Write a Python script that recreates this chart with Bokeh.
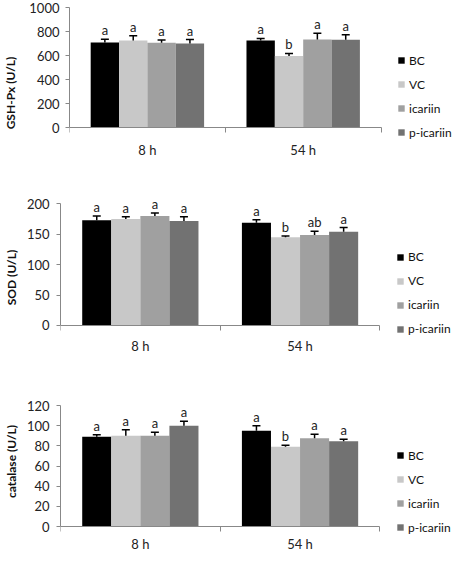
from bokeh.plotting import figure
from bokeh.models import (ColumnDataSource, Range1d, FixedTicker, Whisker, TeeHead,
                          Legend, LegendItem)
from bokeh.transform import dodge
from bokeh.layouts import column
from bokeh.core.properties import value
from bokeh.embed import file_html
from bokeh.resources import INLINE

# ---------------- data ----------------
groups = ["8 h", "54 h"]
series = ["BC", "VC", "icariin", "p-icariin"]
colors = ["#000000", "#c8c8c8", "#a0a0a0", "#727272"]

gsh_mean = [[709, 725], [725, 597], [707, 733], [701, 731]]
gsh_err = [[27, 18], [40, 21], [23, 53], [32, 42]]
gsh_letters = [["a", "a"], ["a", "b"], ["a", "a"], ["a", "a"]]

sod_mean = [[173, 169], [175, 145], [180, 149], [172, 154]]
sod_err = [[7, 5], [4, 2], [5, 6], [7, 7]]
sod_letters = [["a", "a"], ["a", "b"], ["a", "ab"], ["a", "a"]]

cat_mean = [[89, 95], [90, 79], [90, 87.5], [100, 84.5]]
cat_err = [[2, 5], [6, 1.5], [3.5, 4], [4.5, 2]]
cat_letters = [["a", "a"], ["a", "b"], ["a", "a"], ["a", "a"]]

FONT = "Lato"
W = 456
BAR_W = 0.182


def make_panel(ylabel, ymax, ystep, means, errs, letters, height, left,
               ytop_px, y0_px, axis_end, legend_sq_x, legend_y, cat_standoff,
               tick_standoff, label_standoff):
    n = len(groups)
    xend = n * (W - left) / (axis_end - left)
    k = (y0_px - ytop_px) / ymax
    y_hi = ymax + ytop_px / k
    y_lo = -(height - y0_px) / k
    p = figure(width=W, height=height, output_backend="svg", toolbar_location=None,
               x_range=Range1d(0, xend), y_range=Range1d(y_lo, y_hi),
               min_border_left=left, min_border_right=0,
               min_border_top=0, min_border_bottom=0)
    p.xgrid.visible = False
    p.ygrid.visible = False
    p.outline_line_color = None
    p.background_fill_color = "white"

    centers = [i + 0.5 for i in range(n)]
    items = []
    for j, name in enumerate(series):
        off = (j - (len(series) - 1) / 2) * BAR_W
        src = ColumnDataSource(dict(
            x=centers,
            val=means[j],
            up=[m + e for m, e in zip(means[j], errs[j])],
            letter=letters[j],
        ))
        r = p.vbar(x=dodge("x", off), top="val", bottom=0, width=BAR_W, source=src,
                   fill_color=colors[j], line_color=None)
        items.append(LegendItem(label=name, renderers=[r]))
        wh = Whisker(source=src, base=dodge("x", off), upper="up", lower="val",
                     line_color="black", line_width=1.5, level="overlay",
                     upper_head=TeeHead(size=8, line_color="black", line_width=1.5),
                     lower_head=None)
        p.add_layout(wh)
        p.text(x=dodge("x", off), y="up", text="letter", source=src,
               text_align="center", text_baseline="bottom", y_offset=-1,
               text_font=value(FONT), text_font_size="13px", text_color="#222222")

    # x axis, pinned at y = 0
    xa = p.xaxis[0]
    xa.fixed_location = 0
    xa.ticker = FixedTicker(ticks=centers, minor_ticks=list(range(n + 1)))
    xa.major_label_overrides = {c: g for c, g in zip(centers, groups)}
    xa.bounds = (0, n)
    xa.major_tick_out = 0
    xa.major_tick_in = 0
    xa.minor_tick_out = 5
    xa.minor_tick_in = 0
    xa.minor_tick_line_color = "#888888"
    xa.axis_line_color = "#888888"
    xa.major_label_standoff = cat_standoff
    xa.major_label_text_font = FONT
    xa.major_label_text_font_size = "13px"
    xa.major_label_text_color = "#222222"

    # y axis
    ya = p.yaxis[0]
    ya.ticker = FixedTicker(ticks=list(range(0, ymax + 1, ystep)), minor_ticks=[])
    ya.bounds = (0, ymax)
    ya.axis_line_color = "#888888"
    ya.major_tick_line_color = "#888888"
    ya.major_tick_out = 4
    ya.major_tick_in = 0
    ya.minor_tick_out = 0
    ya.minor_tick_in = 0
    ya.major_label_standoff = tick_standoff
    ya.major_label_text_font = FONT
    ya.major_label_text_font_size = "13px"
    ya.major_label_text_color = "#222222"
    ya.axis_label = ylabel
    ya.axis_label_text_font = FONT
    ya.axis_label_text_font_size = "12px"
    ya.axis_label_text_font_style = "bold"
    ya.axis_label_text_color = "#111111"
    ya.axis_label_standoff = label_standoff

    legend = Legend(items=items, location=(legend_sq_x - left, legend_y),
                    orientation="vertical",
                    glyph_width=8, glyph_height=8, label_height=16, spacing=8,
                    padding=0, margin=0, label_standoff=4,
                    border_line_color=None, background_fill_alpha=0,
                    label_text_font=FONT, label_text_font_size="12px",
                    label_text_color="#111111")
    p.add_layout(legend)
    return p


p1 = make_panel("GSH-Px (U/L)", 1000, 200, gsh_mean, gsh_err, gsh_letters,
                height=185, left=66, ytop_px=7, y0_px=127.3, axis_end=380,
                legend_sq_x=394, legend_y=45, cat_standoff=9,
                tick_standoff=6, label_standoff=8)
p2 = make_panel("SOD (U/L)", 200, 50, sod_mean, sod_err, sod_letters,
                height=184, left=58, ytop_px=18.4, y0_px=139.9, axis_end=379,
                legend_sq_x=394, legend_y=32.5, cat_standoff=8,
                tick_standoff=7, label_standoff=5)
p3 = make_panel("catalase (U/L)", 120, 20, cat_mean, cat_err, cat_letters,
                height=184, left=58, ytop_px=36, y0_px=157, axis_end=379,
                legend_sq_x=394, legend_y=18, cat_standoff=4,
                tick_standoff=7, label_standoff=5)

layout = column(column(p1), column(p2), column(p3), spacing=0)
open("out.html", "w").write(file_html(layout, INLINE))
